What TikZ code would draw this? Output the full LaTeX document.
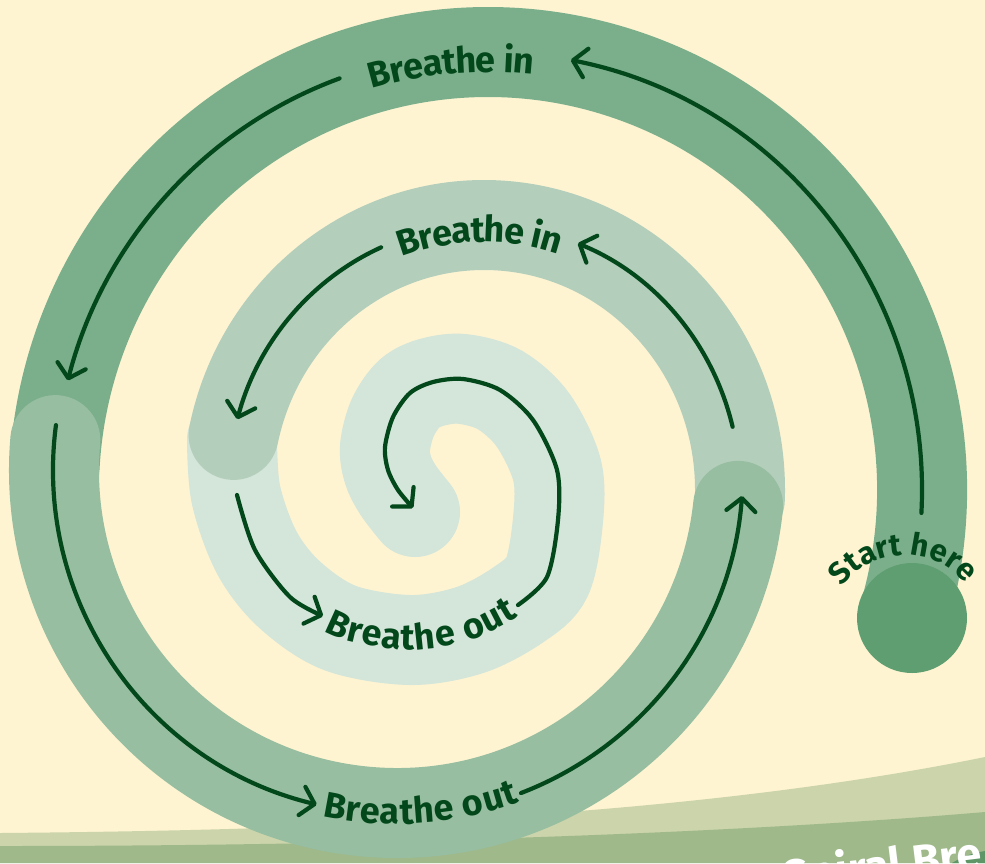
\documentclass[tikz,border=0pt]{standalone}
\usepackage{fontspec}
\setmainfont{Fira Sans}
\usetikzlibrary{arrows.meta,decorations.text}
\definecolor{bg}{HTML}{FEF4D2}
\definecolor{hilllight}{HTML}{CBD4AA}
\definecolor{hilldark}{HTML}{9FB98B}
\definecolor{hilldeep}{HTML}{5F9668}
\definecolor{segA}{HTML}{7BAF8C}
\definecolor{segB}{HTML}{97BEA0}
\definecolor{segC}{HTML}{B4CEBC}
\definecolor{segD}{HTML}{D4E5D9}
\definecolor{startc}{HTML}{5E9E70}
\definecolor{ink}{HTML}{03481B}
\newcommand\lblfont{\bfseries\fontsize{36}{36}\selectfont\color{ink}}
\newcommand\startfont{\bfseries\fontsize{31}{31}\selectfont\color{ink}}
\begin{document}
\begin{tikzpicture}[x=1pt,y=-1pt,
  band/.style={line width=90pt,line cap=round},
  arr/.style={draw=ink,line width=4.2pt,line cap=round,-{Straight Barb[length=13pt,width=29pt,round]}}]
\useasboundingbox (0,0) rectangle (985,863);
\clip (0,0) rectangle (985,863);
\fill[bg] (0,0) rectangle (985,863);
% hills
\fill[hilllight] (0,833) .. controls (350,830) and (700,815) .. (985,757) -- (985,863) -- (0,863) -- cycle;
\fill[hilldark] (0,846) .. controls (400,846) and (750,832) .. (985,812) -- (985,863) -- (0,863) -- cycle;
\fill[hilldeep] (952,863) .. controls (962,857) and (972,853) .. (985,851) -- (985,863) -- cycle;
\node[anchor=base west,rotate=7,text=white,font=\bfseries\fontsize{45}{45}\selectfont,inner sep=0pt] (title) at (785,893) {Spiral Bre};
% spiral bands
\draw[band,segA] ([shift={(488,490)}]16:434 and 438) arc[start angle=16,end angle=-177,x radius=434,y radius=438];
\draw[band,segD] plot[smooth,tension=0.55] coordinates {(232,440) (236,495) (257,553) (290,595) (340,628) (410,640) (470,630) (518,605) (547,577) (558,520) (557,470) (533,420) (500,390) (463,379) (433,382) (410,393) (393,417) (385,447) (388,470) (398,490) (415,512)};
\draw[band,segC] ([shift={(484,490)}]2:256 and 265) arc[start angle=2,end angle=-168,x radius=256,y radius=265];
\draw[band,segB] ([shift={(397,470)}]185:343) arc[start angle=185,end angle=6,radius=343];
\node[circle,fill=startc,minimum size=110pt,inner sep=0pt] (start) at (912,618) {};
% arrows
\draw[arr] ([shift={(488,490)}]3:434 and 438) arc[start angle=3,end angle=-79,x radius=434,y radius=438];
\draw[arr] ([shift={(488,490)}]-110:434 and 438) arc[start angle=-110,end angle=-165.5,x radius=434,y radius=438];
\draw[arr] ([shift={(397,470)}]187.5:344) arc[start angle=187.5,end angle=103.5,radius=344];
\draw[arr] ([shift={(397,470)}]69:346) arc[start angle=69,end angle=4.3,radius=346];
\draw[arr] ([shift={(484,490)}]-13.8:256 and 265) arc[start angle=-13.8,end angle=-68.5,x radius=256,y radius=265];
\draw[arr] ([shift={(484,490)}]-113.7:256 and 265) arc[start angle=-113.7,end angle=-164.5,x radius=256,y radius=265];
\draw[arr] plot[smooth] coordinates {(237,495) (255,550) (290,597) (323,616)};
\draw[arr] plot[smooth] coordinates {(518,605) (547,577) (558,520) (557,470) (533,420) (500,390) (463,379) (433,382) (410,393) (393,417) (385,447) (388,470) (398,490) (413,508)};
% labels
\path[decorate,decoration={text along path,text align=center,raise=-20pt,text={|\lblfont|Breathe in}}] ([shift={(488,490)}]-125:434 and 438) arc[start angle=-125,end angle=-65,x radius=434,y radius=438];
\path[decorate,decoration={text along path,text align=center,raise=-17pt,text={|\lblfont|Breathe in}}] ([shift={(484,490)}]-121:256 and 265) arc[start angle=-121,end angle=-61,x radius=256,y radius=265];
\path[decorate,decoration={text along path,text align=center,raise=-11pt,text={|\lblfont|Breathe out}}] ([shift={(397,470)}]111:343) arc[start angle=111,end angle=61,radius=343];
\path[decorate,decoration={text along path,text align=center,raise=-10pt,text={|\lblfont|Breathe out}}] plot[smooth] coordinates {(290,595) (340,628) (410,640) (470,630) (518,605) (547,577)};
\path[decorate,decoration={text along path,text align=center,raise=0pt,text={|\startfont|Start here}}] ([shift={(905,634)}]-170:79) arc[start angle=-170,end angle=-13,radius=79];
\end{tikzpicture}
\end{document}
